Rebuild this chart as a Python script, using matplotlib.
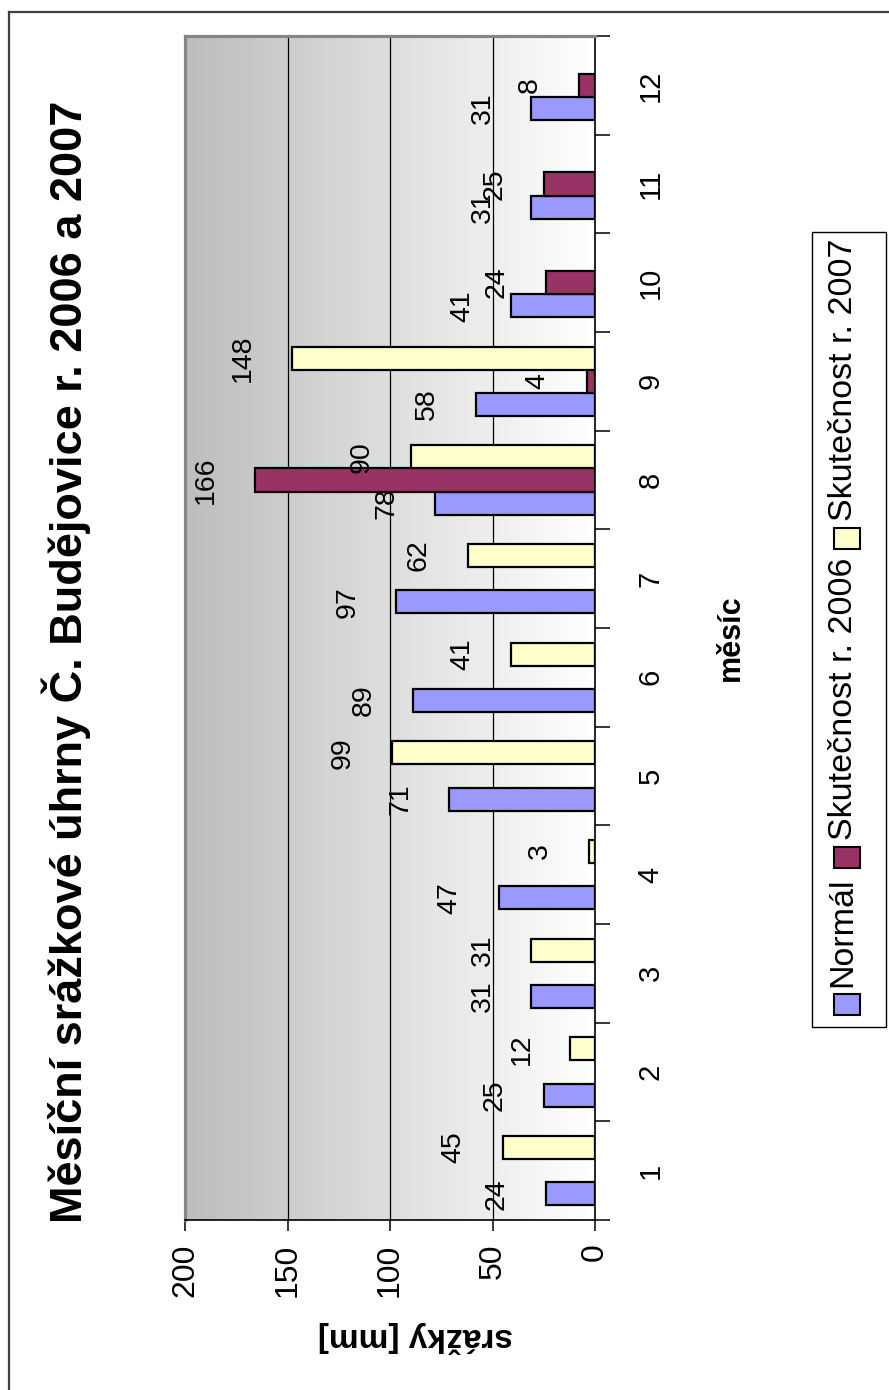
import numpy as np
import matplotlib
matplotlib.use('Agg')
import matplotlib.pyplot as plt
from matplotlib.colors import LinearSegmentedColormap
from matplotlib.patches import Rectangle
from matplotlib.lines import Line2D

plt.rcParams['font.family'] = ['Liberation Sans', 'DejaVu Sans']

# mesicni srazky, C. Budejovice
months = np.arange(1, 13)
month_labels = [str(m) for m in months]
normal = [24, 25, 31, 47, 71, 89, 97, 78, 58, 41, 31, 31]
rok2006 = [None, None, None, None, None, None, None, 166, 4, 24, 25, 8]
rok2007 = [45, 12, 31, 3, 99, 41, 62, 90, 148, None, None, None]
series_names = ['Normál', 'Skutečnost r. 2006', 'Skutečnost r. 2007']
series_colors = ['#9999ff', '#993366', '#ffffcc']
value_ticks = [0, 50, 100, 150, 200]

W, H = 889, 1390
fig = plt.figure(figsize=(W / 100, H / 100), dpi=100)


def fx(x):
    return x / W


def fy(y):
    return 1 - y / H


# graf je otoceny o 90 stupnu - hodnoty rostou doleva, mesice nahoru
ax = fig.add_axes([fx(185), fy(1220), fx(595) - fx(185), fy(36) - fy(1220)])

grad = np.linspace(0, 1, 256).reshape(1, -1)
bg = LinearSegmentedColormap.from_list('bg', ['#bdbdbd', '#ffffff'])
ax.imshow(grad, extent=[200, 0, 0.5, 12.5], aspect='auto', cmap=bg, zorder=0)

bar_h = 0.235
offsets = [-bar_h, 0, bar_h]
for vals, off, col in zip([normal, rok2006, rok2007], offsets, series_colors):
    for m, v in zip(months, vals):
        if v is None:
            continue
        ax.barh(m + off, v, height=bar_h, color=col, edgecolor='black',
                linewidth=1.6, zorder=3)
        ax.annotate(str(v), xy=(v, m + off), xytext=(-49, 0),
                    textcoords='offset pixels', rotation=90,
                    ha='center', va='center', fontsize=20.5, zorder=4)

ax.set_xlim(200, 0)
ax.set_ylim(0.5, 12.5)

for g in [50, 100, 150]:
    ax.axvline(g, color='black', lw=0.9, zorder=1)

ax.set_xticks(value_ticks)
ax.set_xticklabels([str(t) for t in value_ticks], rotation=90)
ax.tick_params(axis='x', direction='out', length=8, width=1.1, pad=9,
               labelsize=23)

ax.yaxis.tick_right()
ax.set_yticks(np.arange(0.5, 12.6, 1))
ax.set_yticklabels([])
ax.set_yticks(months, minor=True)
ax.set_yticklabels(month_labels, minor=True, rotation=90, va='center')
ax.tick_params(axis='y', which='major', direction='out', length=11, width=1.1)
ax.tick_params(axis='y', which='minor', length=0, pad=30, labelsize=21)

for s in ['left', 'top']:
    ax.spines[s].set_color('#858585')
    ax.spines[s].set_linewidth(2.3)
for s in ['right', 'bottom']:
    ax.spines[s].set_color('black')
    ax.spines[s].set_linewidth(1.2)

# popisky a nadpis
fig.text(fx(66), fy(662), 'Měsíční srážkové úhrny Č. Budějovice r. 2006 a 2007',
         rotation=90, ha='center', va='center', fontsize=32.5, fontweight='bold')
fig.text(fx(731), fy(638), 'měsíc', rotation=90, ha='center', va='center',
         fontsize=22, fontweight='bold')
fig.text(fx(415), fy(1337), 'srážky [mm]', rotation=180, ha='center',
         va='center', fontsize=24, fontweight='bold')

# ramecek kolem celeho grafu
fig.add_artist(Line2D([fx(8.5), fx(8.5)], [0, fy(12)], color='#404040', lw=1.6))
fig.add_artist(Line2D([fx(8.5), 1], [fy(12), fy(12)], color='#404040', lw=1.6))

# legenda (svisle)
fig.add_artist(Rectangle((fx(812), fy(1027)), fx(886) - fx(812),
                         fy(232) - fy(1027), facecolor='white',
                         edgecolor='black', lw=1.0))
renderer = fig.canvas.get_renderer()
y = 1015
for name, col in zip(series_names, series_colors):
    fig.add_artist(Rectangle((fx(834), fy(y)), fx(860) - fx(834), fy(y - 21) - fy(y),
                             facecolor=col, edgecolor='black', lw=1.5))
    y -= 28
    t = fig.text(fx(843), fy(y), name, rotation=90, ha='center', va='bottom',
                 fontsize=24.5)
    y -= t.get_window_extent(renderer).height + 9

fig.savefig('out.png', dpi=100)
